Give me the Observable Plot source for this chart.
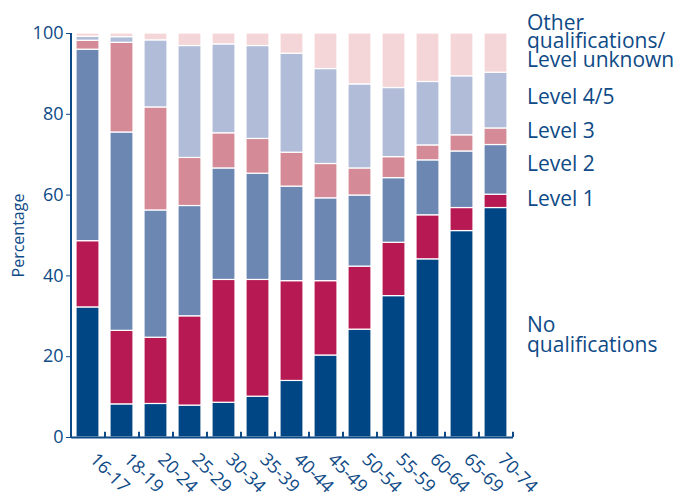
<!DOCTYPE html>
<html><head><meta charset="utf-8">
<script src="https://cdn.jsdelivr.net/npm/d3@7"></script>
<script src="https://cdn.jsdelivr.net/npm/@observablehq/plot@0.6"></script>
<style>body{margin:0;background:#fff}</style>
</head><body><div id="chart"></div>
<script>
const ageGroups = ["16-17","18-19","20-24","25-29","30-34","35-39","40-44","45-49","50-54","55-59","60-64","65-69","70-74"];
const seriesNames = ["No qualifications","Level 1","Level 2","Level 3","Level 4/5","Other qualifications/Level unknown"];
const legendLabels = ["No\nqualifications","Level 1","Level 2","Level 3","Level 4/5","Other\nqualifications/\nLevel unknown"];
const noQual  = [32.2, 8.2, 8.3, 7.9, 8.6,10.1,14.0,20.3,26.7,35.0,44.1,51.1,56.8];
const level1  = [16.4,18.2,16.4,22.1,30.4,28.9,24.7,18.4,15.6,13.2,10.9, 5.7, 3.3];
const level2  = [47.4,49.1,31.5,27.3,27.6,26.3,23.4,20.5,17.6,16.0,13.6,14.0,12.3];
const level3  = [ 2.2,22.2,25.5,11.9, 8.7, 8.6, 8.4, 8.5, 6.7, 5.2, 3.7, 4.0, 4.1];
const level45 = [ 1.0, 1.4,16.6,27.7,22.0,23.0,24.5,23.5,20.8,17.1,15.7,14.6,13.8];
const other   = [ 0.8, 0.9, 1.7, 3.1, 2.7, 3.1, 5.0, 8.8,12.6,13.5,12.0,10.6, 9.7];
const yTicks = [0, 20, 40, 60, 80, 100];
const legendY = [25.3, 58.9, 67.5, 75.6, 84.2, 97.8];

const seriesValues = [noQual, level1, level2, level3, level45, other];
const colors = ["#004685", "#b71a52", "#6d87b3", "#d58b97", "#b1bcd8", "#f4d6d9"];
const ink = "#0e4a86";

const rows = [];
seriesNames.forEach((s, si) => ageGroups.forEach((a, ai) => rows.push({age: a, series: s, value: seriesValues[si][ai]})));
const legendRows = seriesNames.map((s, i) => ({label: legendLabels[i], y: legendY[i]}));
const lastAge = ageGroups[ageGroups.length - 1];

const chart = Plot.plot({
  width: 693,
  height: 497,
  marginLeft: 71,
  marginRight: 180,
  marginTop: 33,
  marginBottom: 60,
  style: {fontFamily: "'Open Sans', sans-serif", color: ink, background: "white"},
  x: {domain: ageGroups, paddingInner: 0.32, paddingOuter: 0.16, label: null, axis: null},
  y: {domain: [0, 100], label: null},
  color: {domain: seriesNames, range: colors},
  marks: [
    Plot.barY(rows, {x: "age", y: "value", fill: "series", order: seriesNames, stroke: "white", strokeWidth: 1.2}),
    Plot.ruleY([0], {stroke: ink, strokeWidth: 2}),
    Plot.ruleX([ageGroups[0]], {dx: -17, y1: 0, y2: 100, stroke: ink, strokeWidth: 2}),
    Plot.ruleX(ageGroups, {dx: 17, y1: 0, y2: 1.3, stroke: ink, strokeWidth: 2}),
    Plot.axisY({ticks: yTicks, tickSize: 5, tickPadding: 3, fontSize: 18, stroke: ink, fill: ink, tickFormat: d => d, label: null}),
    Plot.text(["Percentage"], {frameAnchor: "left", dx: -53, rotate: -90, fontSize: 16, fill: ink, textAnchor: "middle"}),
    Plot.text(ageGroups, {x: d => d, frameAnchor: "bottom", rotate: 45, textAnchor: "start", lineAnchor: "top", dx: 10, dy: 14, fontSize: 18, fill: ink}),
    Plot.text(legendRows.slice(0, 5), {x: () => lastAge, y: "y", text: "label", dx: 31, textAnchor: "start", fontSize: 21, fontWeight: 500, fill: ink, lineHeight: 0.95, ariaLabel: "legend-text"}),
    Plot.text(legendRows.slice(5), {x: () => lastAge, y: "y", text: "label", dx: 31, textAnchor: "start", fontSize: 21, fontWeight: 500, fill: ink, lineHeight: 0.88, ariaLabel: "legend-text"})
  ]
});
chart.querySelectorAll("g[aria-label='legend-text']").forEach(g => g.setAttribute("letter-spacing", "0.4"));
document.getElementById("chart").appendChild(chart);
</script>
</body></html>
